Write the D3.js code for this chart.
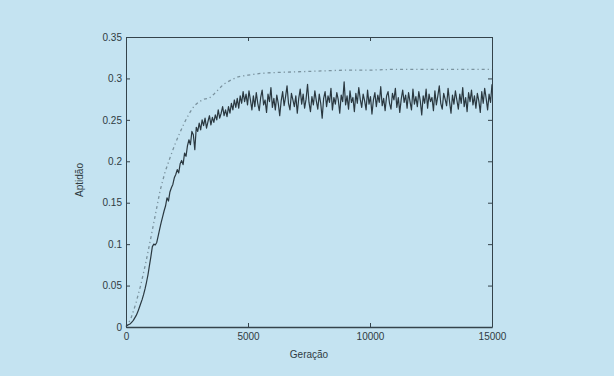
<!DOCTYPE html>
<html>
<head>
<meta charset="utf-8">
<script src="https://cdn.jsdelivr.net/npm/d3@7"></script>
<style>
  html, body { margin: 0; padding: 0; background: #c4e3f1; }
  svg { display: block; }
  .axis text { font-family: "Liberation Sans", Arial, sans-serif; font-size: 10px; fill: #2f3b42; }
  .axis path, .axis line { stroke: #34434b; }
  .label { font-family: "Liberation Sans", Arial, sans-serif; font-size: 10px; fill: #2f3b42; }
</style>
</head>
<body>
<div id="chart"></div>
<script>
// generations sampled every 60 for the mean fitness curve
const genStep = 60;
const meanFitness = [
  0.001, 0.002, 0.003, 0.004, 0.006, 0.008, 0.011, 0.014, 0.018, 0.023,
  0.028, 0.033, 0.039, 0.046, 0.054, 0.063, 0.074, 0.085, 0.097, 0.100,
  0.099, 0.102, 0.110, 0.118, 0.126, 0.133, 0.140, 0.146, 0.156, 0.152,
  0.163, 0.168, 0.172, 0.180, 0.184, 0.190, 0.186, 0.197, 0.201, 0.196,
  0.210, 0.206, 0.219, 0.226, 0.220, 0.236, 0.232, 0.214, 0.241, 0.236,
  0.246, 0.238, 0.250, 0.243, 0.252, 0.240, 0.248, 0.255, 0.244, 0.253,
  0.247, 0.256, 0.250, 0.262, 0.252, 0.258, 0.266, 0.255, 0.262, 0.254,
  0.266, 0.258, 0.270, 0.262, 0.274, 0.265, 0.276, 0.264, 0.279, 0.270,
  0.284, 0.272, 0.281, 0.268, 0.285, 0.274, 0.262,
  0.279, 0.266, 0.283, 0.270, 0.261, 0.277, 0.286, 0.268, 0.274, 0.259,
  0.281, 0.272, 0.289, 0.265, 0.276, 0.262, 0.280, 0.270, 0.255, 0.273,
  0.284, 0.267, 0.278, 0.291, 0.270, 0.262, 0.282, 0.274, 0.266, 0.279,
  0.258, 0.276, 0.287, 0.269, 0.281, 0.264, 0.275, 0.293, 0.271, 0.260,
  0.278, 0.268, 0.285, 0.273, 0.263, 0.281, 0.270, 0.252, 0.276, 0.284,
  0.266, 0.279, 0.271, 0.288, 0.262, 0.277, 0.269, 0.283, 0.274, 0.258,
  0.280, 0.272, 0.296, 0.268, 0.279, 0.263, 0.285, 0.271, 0.277, 0.260,
  0.282, 0.270, 0.289, 0.275, 0.265, 0.281, 0.273, 0.262, 0.286, 0.269,
  0.278, 0.257, 0.274, 0.283, 0.266, 0.280, 0.271, 0.290, 0.267, 0.276,
  0.261, 0.279, 0.284, 0.270, 0.263, 0.282, 0.274, 0.288, 0.265, 0.277,
  0.259, 0.275, 0.286, 0.271, 0.280, 0.264, 0.283, 0.272, 0.262, 0.287,
  0.269, 0.278, 0.266, 0.284, 0.273, 0.256, 0.279, 0.270, 0.287, 0.264,
  0.281, 0.272, 0.277, 0.261, 0.285, 0.268, 0.279, 0.291, 0.270, 0.263,
  0.282, 0.275, 0.267, 0.288, 0.272, 0.258, 0.280, 0.269, 0.285, 0.274,
  0.263, 0.281, 0.270, 0.289, 0.266, 0.277, 0.260, 0.283, 0.272, 0.286,
  0.268, 0.279, 0.264, 0.282, 0.273, 0.259, 0.284, 0.270, 0.288, 0.276,
  0.262, 0.281, 0.271, 0.293
];

// dash-dot curve
const bestGens = [0, 200, 400, 600, 800, 1000, 1200, 1400, 1600, 1800, 2000, 2200, 2400, 2600, 2800,
  3000, 3200, 3400, 3600, 3800, 4000, 4300, 4600, 5000, 5500, 6000, 7000, 8000, 9000, 10000,
  11000, 12000, 13000, 14000, 15000];
const bestFitness = [0.000, 0.010, 0.028, 0.050, 0.076, 0.105, 0.135, 0.165, 0.187, 0.204, 0.220, 0.234, 0.247, 0.258, 0.267,
  0.272, 0.275, 0.276, 0.281, 0.287, 0.293, 0.298, 0.302, 0.304, 0.306, 0.307, 0.308, 0.309, 0.310, 0.310,
  0.311, 0.311, 0.311, 0.311, 0.311];

const xTicks = [0, 5000, 10000, 15000];
const yTicks = [0, 0.05, 0.1, 0.15, 0.2, 0.25, 0.3, 0.35];

const width = 614, height = 376;
const margin = {top: 37, right: 122, bottom: 49, left: 126};

const svg = d3.select('#chart').append('svg').attr('width', width).attr('height', height);

const x = d3.scaleLinear().domain([0, 15000]).range([margin.left, width - margin.right]);
const y = d3.scaleLinear().domain([0, 0.35]).range([height - margin.bottom, margin.top]);

// lines
const bestLine = d3.line()
  .x((d, i) => x(bestGens[i]))
  .y(d => y(d));

svg.append('path')
  .datum(bestFitness)
  .attr('fill', 'none')
  .attr('stroke', '#7a929e')
  .attr('stroke-width', 1.3)
  .attr('stroke-dasharray', '3,3,1.2,3')
  .attr('d', bestLine);

const meanLine = d3.line()
  .x((d, i) => x(i * genStep))
  .y(d => y(d));

svg.append('path')
  .datum(meanFitness)
  .attr('fill', 'none')
  .attr('stroke', '#2a3840')
  .attr('stroke-width', 1.2)
  .attr('stroke-linejoin', 'round')
  .attr('d', meanLine);

// axes (box with inward ticks)
svg.append('g')
  .attr('class', 'axis')
  .attr('transform', `translate(0, ${height - margin.bottom})`)
  .call(d3.axisBottom(x).tickValues(xTicks).tickSizeInner(-4).tickSizeOuter(0).tickPadding(6).tickFormat(d3.format('d')))
  .call(g => g.select('.domain').attr('stroke-width', 1.6).attr('stroke', '#4a5b63'));

svg.append('g')
  .attr('class', 'axis')
  .attr('transform', `translate(${margin.left}, 0)`)
  .call(d3.axisLeft(y).tickValues(yTicks).tickSizeInner(-4).tickSizeOuter(0).tickPadding(4).tickFormat(d => String(d)));

svg.append('g')
  .attr('class', 'axis')
  .attr('transform', `translate(0, ${margin.top})`)
  .call(d3.axisTop(x).tickValues(xTicks).tickSizeInner(-4).tickSizeOuter(0).tickFormat(''));

svg.append('g')
  .attr('class', 'axis')
  .attr('transform', `translate(${width - margin.right}, 0)`)
  .call(d3.axisRight(y).tickValues(yTicks).tickSizeInner(-4).tickSizeOuter(0).tickFormat(''));

// axis labels
svg.append('text')
  .attr('class', 'label')
  .attr('x', (margin.left + width - margin.right) / 2)
  .attr('y', 358)
  .attr('text-anchor', 'middle')
  .text('Geração');

svg.append('text')
  .attr('class', 'label')
  .attr('transform', `translate(83, ${(margin.top + height - margin.bottom) / 2 - 2}) rotate(-90)`)
  .attr('text-anchor', 'middle')
  .text('Aptidão');
</script>
</body>
</html>
